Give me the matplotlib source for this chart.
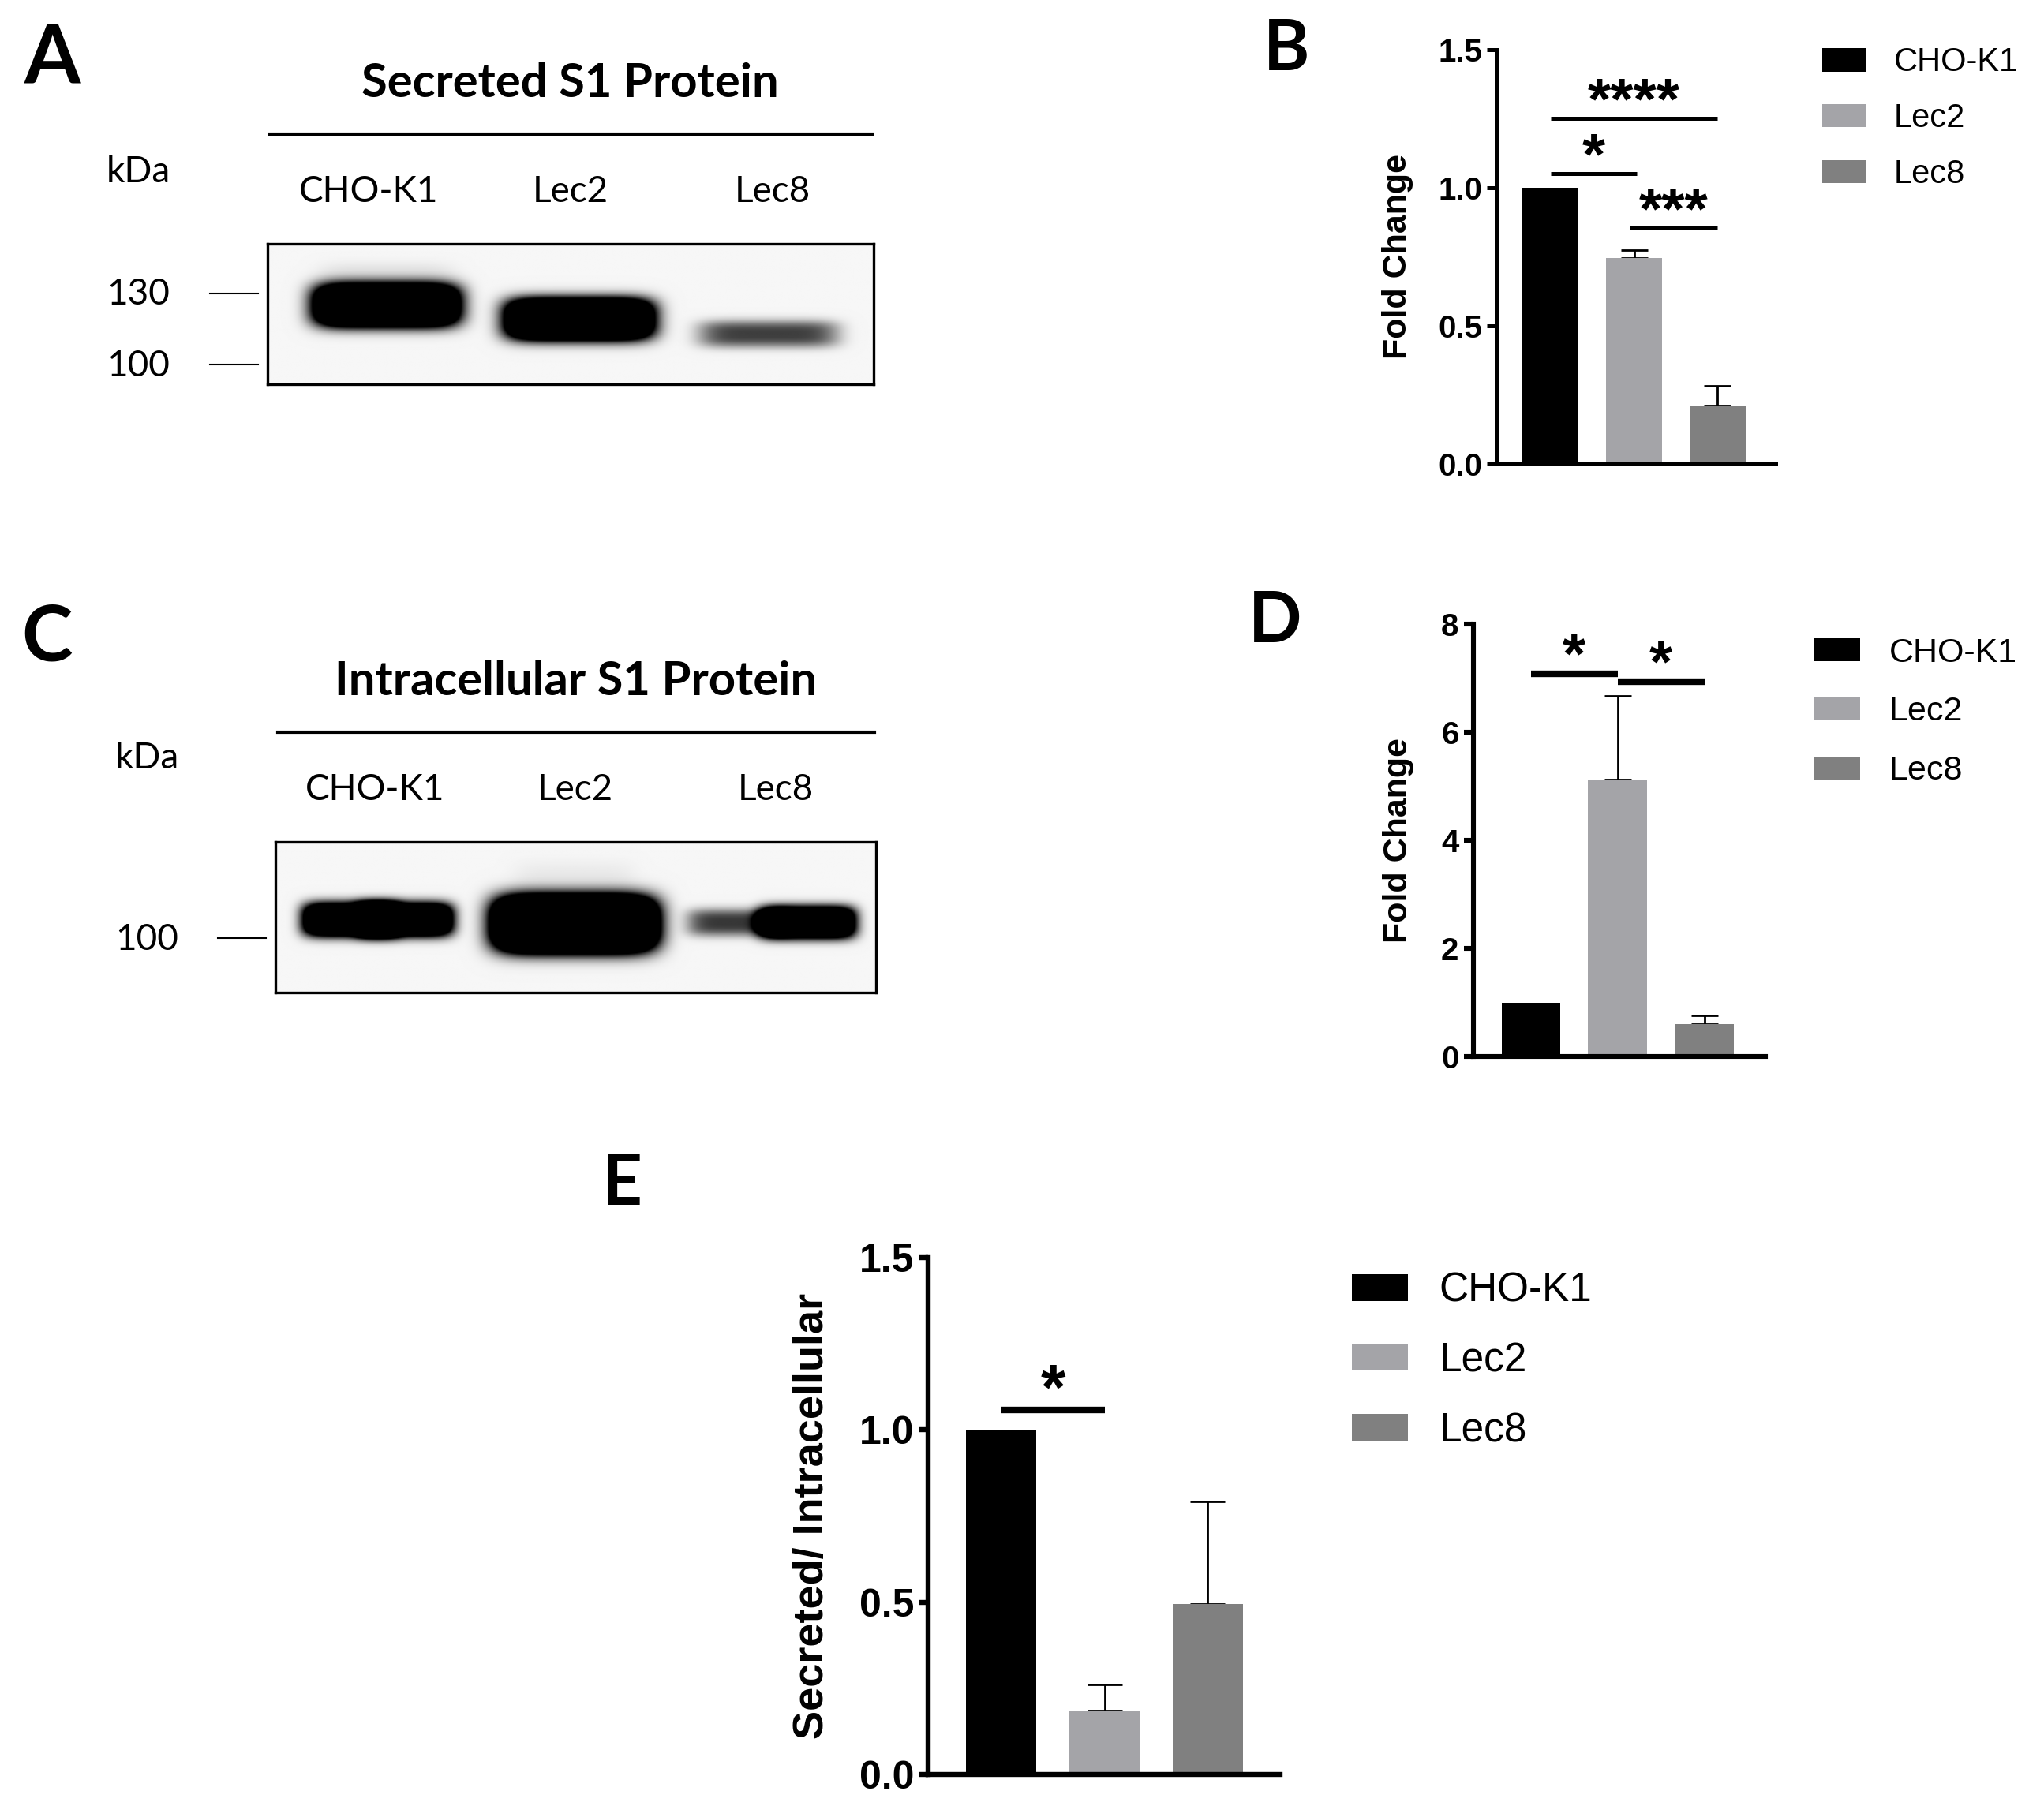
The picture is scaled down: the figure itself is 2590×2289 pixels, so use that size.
import numpy as np
import matplotlib
matplotlib.use('Agg')
import matplotlib.pyplot as plt
from matplotlib.patches import Patch

# ---- data ----
cells = ['CHO-K1', 'Lec2', 'Lec8']
bar_colors = ['#000000', '#a4a4a8', '#808080']

secreted_fold = [1.0, 0.745, 0.211]
secreted_err = [0.0, 0.029, 0.072]
intracellular_fold = [1.0, 5.12, 0.60]
intracellular_err = [0.0, 1.55, 0.17]
ratio_fold = [1.0, 0.185, 0.495]
ratio_err = [0.0, 0.076, 0.298]

# significance brackets: (from bar, to bar, height, label)
sec_sig = [(0, 2, 1.25, '****'), (0, 1.03, 1.052, '*'), (0.95, 2, 0.854, '***')]
intra_sig = [(0, 1, 7.08, '*'), (1, 2, 6.94, '*')]
ratio_sig = [(0, 1, 1.058, '*')]

# blot bands: band centre x / y (fraction of blot box), half widths, strength
sec_band_x = [0.196, 0.514, 0.826, 0.196]
sec_band_y = [0.44, 0.54, 0.645, 0.22]
sec_band_hw = [0.12, 0.122, 0.115, 0.11]
sec_band_hh = [0.15, 0.145, 0.095, 0.09]
sec_band_s = [3.0, 3.0, 0.72, 0.07]

intra_band_x = [0.125, 0.215, 0.498, 0.77, 0.885, 0.498]
intra_band_y = [0.519, 0.519, 0.547, 0.538, 0.538, 0.25]
intra_band_hw = [0.08, 0.08, 0.135, 0.085, 0.08, 0.1]
intra_band_hh = [0.11, 0.11, 0.18, 0.09, 0.105, 0.12]
intra_band_s = [2.5, 2.5, 4.0, 0.75, 2.5, 0.05]

sec_markers = ['130', '100']
intra_markers = ['100']

W, H = 1568.0, 1386.0


def fx(x):
    return x / W


def fy(y):
    return 1 - y / H


def blot_image(bx, by, bhw, bhh, bs, nx=700, ny=170):
    X, Y = np.meshgrid(np.linspace(0, 1, nx), np.linspace(0, 1, ny))
    dark = np.zeros_like(X)
    for cx, cy, hw, hh, s in zip(bx, by, bhw, bhh, bs):
        dark += s * np.exp(-np.abs((X - cx) / hw) ** 6) * np.exp(-np.abs((Y - cy) / hh) ** 3)
    return 0.965 - np.clip(dark, 0, 0.965)


fig = plt.figure(figsize=(25.9, 22.89), dpi=100)

# overlay for panel letters and blot annotations (pixel layout of the figure)
over = fig.add_axes([0, 0, 1, 1], zorder=0)
over.set_xlim(0, W)
over.set_ylim(H, 0)
over.axis('off')

calibri = 'Lato'
for letter, x, y, size in [('A', 40, 46, 74), ('B', 987, 38, 64), ('C', 36, 490, 70),
                           ('D', 978, 477, 64), ('E', 477, 909, 64)]:
    over.text(x, y, letter, fontsize=size, fontweight='bold', family=calibri, ha='center', va='center')


def blot_panel(box, title, img, markers, marker_y, kda_xy):
    x0, y0, x1, y1 = box
    ax = fig.add_axes([fx(x0), fy(y1), (x1 - x0) / W, (y1 - y0) / H])
    ax.imshow(img, cmap='gray', vmin=0, vmax=1, extent=[0, 1, 1, 0], aspect='auto', interpolation='bilinear')
    ax.set_xticks([])
    ax.set_yticks([])
    for s in ax.spines.values():
        s.set_linewidth(2.4)
    cx = (x0 + x1) / 2
    over.text(cx, y0 - 123, title, fontsize=43, fontweight='bold', family=calibri, ha='center', va='center')
    over.plot([x0 + 2, x1 - 1], [y0 - 84, y0 - 84], color='black', lw=3)
    for i, name in enumerate(cells):
        over.text(x0 + (x1 - x0) * (2 * i + 1) / 6, y0 - 40, name, fontsize=33, family=calibri,
                  ha='center', va='center')
    over.text(kda_xy[0], kda_xy[1], 'kDa', fontsize=33, family=calibri, ha='center', va='center')
    for m, my in zip(markers, marker_y):
        over.text(kda_xy[0], my + 1, m, fontsize=33, family=calibri, ha='center', va='center')
        over.plot([x0 - 44, x0 - 7], [my, my], color='black', lw=1.5)


blot_panel((205, 187, 670, 295), 'Secreted S1 Protein',
           blot_image(sec_band_x, sec_band_y, sec_band_hw, sec_band_hh, sec_band_s),
           sec_markers, [225, 280], (106, 132))
blot_panel((211, 646, 672, 762), 'Intracellular S1 Protein',
           blot_image(intra_band_x, intra_band_y, intra_band_hw, intra_band_hh, intra_band_s),
           intra_markers, [720], (113, 582))

arial = 'Liberation Sans'


def bar_panel(rect, vals, errs, sigs, ylim, yticks, yticklabels, ylabel, xlim, width, capsize,
              fs, lab_fs, lw, sig_lw, star_fs, star_off, label_x,
              leg_xy, leg_fs, leg_hl, leg_hh, leg_pad, leg_sp):
    x0, y0, x1, y1 = rect
    ax = fig.add_axes([fx(x0), fy(y1), (x1 - x0) / W, (y1 - y0) / H])
    pos = np.arange(len(vals))
    ax.bar(pos, vals, width=width, color=bar_colors, zorder=2)
    for p, v, e in zip(pos, vals, errs):
        if e > 0:
            ax.errorbar(p, v, yerr=[[0], [e]], fmt='none', ecolor='black', elinewidth=2,
                        capsize=capsize, capthick=2, zorder=1)
    for a, b, h, lab in sigs:
        ax.plot([a, b], [h, h], color='black', lw=sig_lw, solid_capstyle='butt', clip_on=False)
        ax.text((a + b) / 2, h + star_off, lab, fontsize=star_fs, fontweight='bold', family=arial,
                ha='center', va='center')
    ax.set_xlim(*xlim)
    ax.set_ylim(*ylim)
    ax.set_xticks([])
    ax.set_yticks(yticks)
    ax.set_yticklabels(yticklabels, fontsize=fs, fontweight='bold', family=arial)
    ax.tick_params(axis='y', length=9, width=lw, pad=4)
    for s in ['top', 'right']:
        ax.spines[s].set_visible(False)
    for s in ['left', 'bottom']:
        ax.spines[s].set_linewidth(lw)
    ax.set_ylabel(ylabel, fontsize=lab_fs, fontweight='bold', family=arial, va='center')
    ax.yaxis.set_label_coords((label_x - x0) / (x1 - x0), 0.5)
    handles = [Patch(facecolor=c, edgecolor='none') for c in bar_colors]
    ax.legend(handles, cells, loc='upper left', bbox_to_anchor=(fx(leg_xy[0]), fy(leg_xy[1])),
              bbox_transform=fig.transFigure, frameon=False, borderpad=0, borderaxespad=0,
              prop={'family': arial, 'size': leg_fs}, handlelength=leg_hl, handleheight=leg_hh,
              handletextpad=leg_pad, labelspacing=leg_sp)
    return ax


bar_panel((1148, 38, 1362, 356), secreted_fold, secreted_err, sec_sig, (0, 1.5),
          [0, 0.5, 1.0, 1.5], ['0.0', '0.5', '1.0', '1.5'], 'Fold Change',
          (-0.648, 2.695), 0.67, 12, 29, 31, 3.6, 3.6, 54, 0.055, 1072,
          (1398, 36), 30, 1.35, 0.71, 0.83, 0.74)
bar_panel((1130, 479, 1354, 811), intracellular_fold, intracellular_err, intra_sig, (0, 8),
          [0, 2, 4, 6, 8], ['0', '2', '4', '6', '8'], 'Fold Change',
          (-0.669, 2.70), 0.68, 12, 29, 31, 4.4, 6, 54, 0.29, 1073,
          (1391, 489), 31, 1.38, 0.65, 0.85, 0.81)
bar_panel((712, 965, 982, 1362), ratio_fold, ratio_err, ratio_sig, (0, 1.5),
          [0, 0.5, 1.0, 1.5], ['0.0', '0.5', '1.0', '1.5'], 'Secreted/ Intracellular',
          (-0.707, 2.70), 0.68, 16, 36, 39, 4.6, 6, 58, 0.05, 623,
          (1037, 976), 37, 1.38, 0.64, 0.77, 0.77)

fig.savefig('out.png', dpi=100, facecolor='white')
